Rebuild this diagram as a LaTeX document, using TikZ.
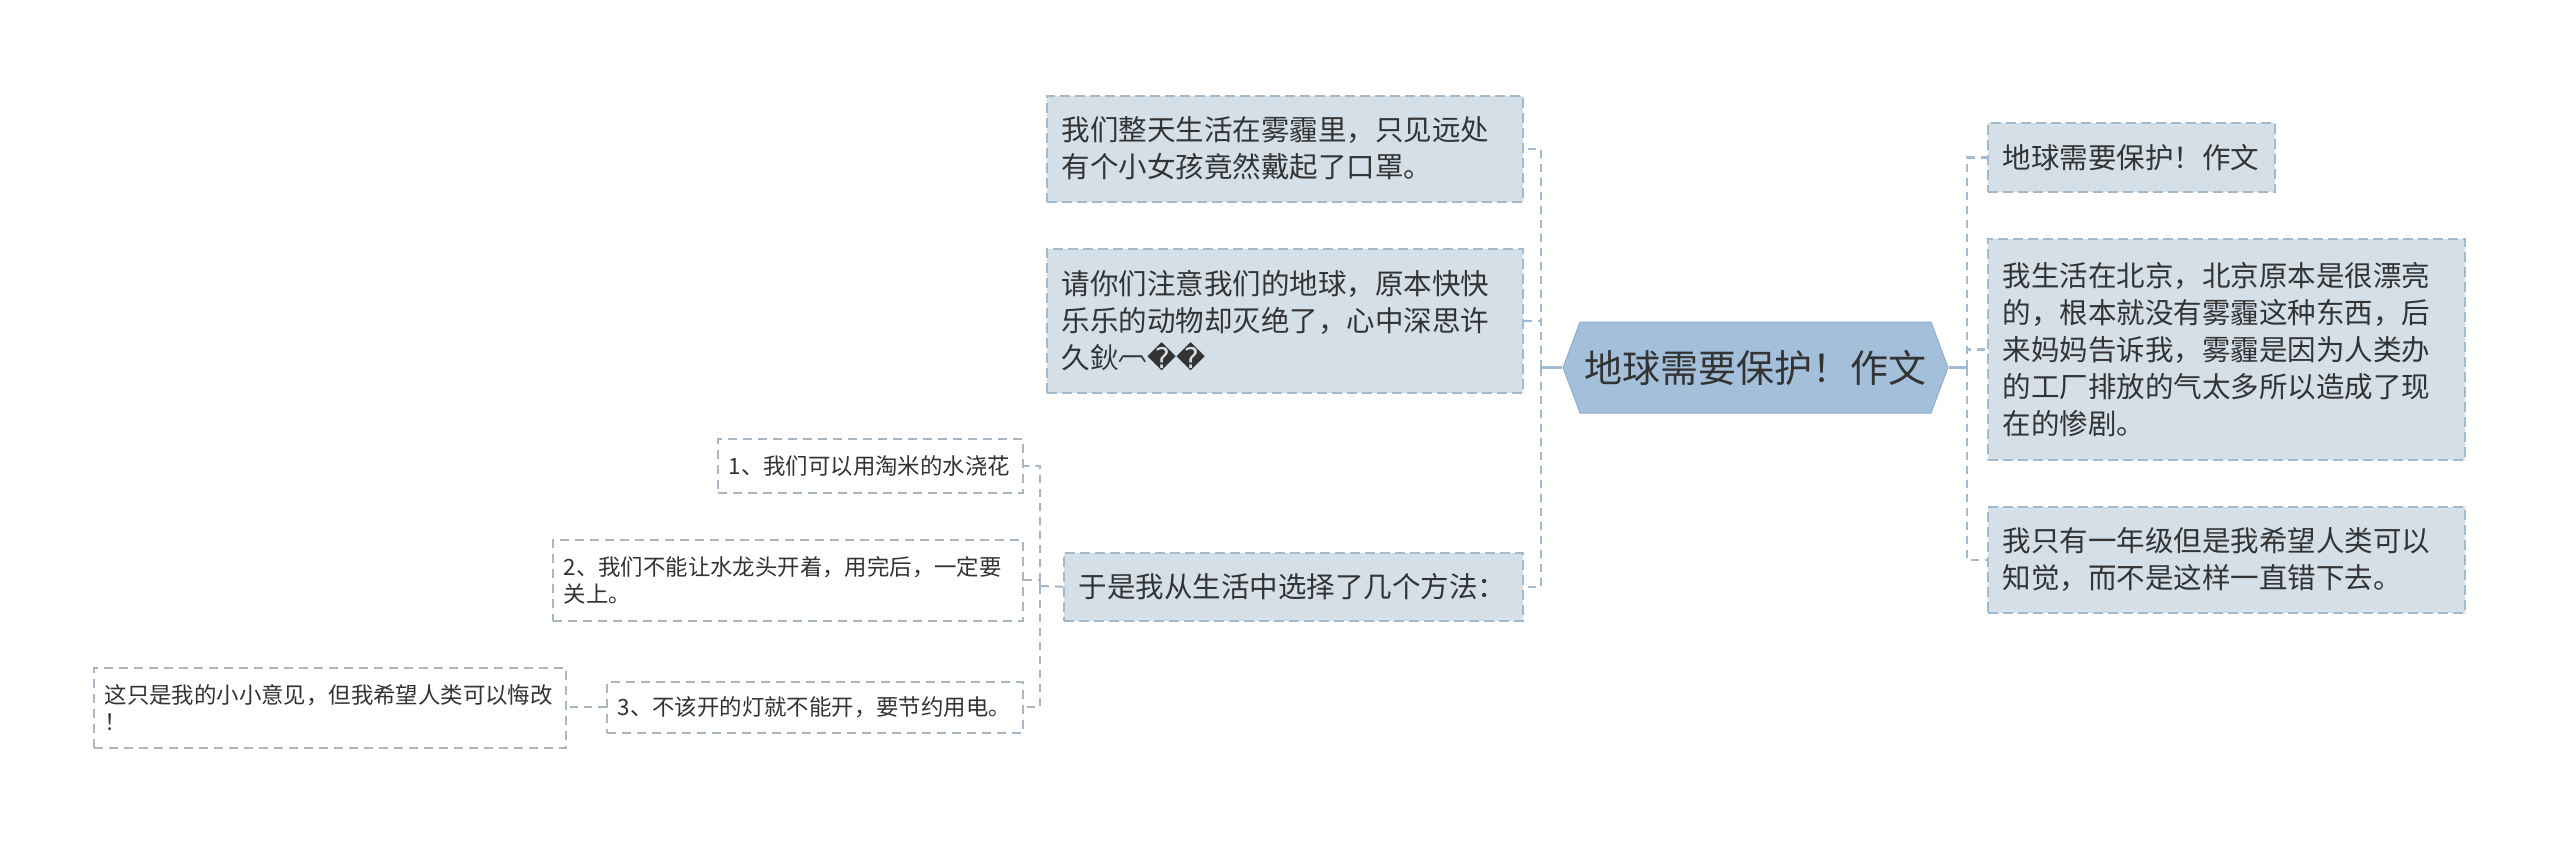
\documentclass[tikz,border=0pt]{standalone}
\usepackage{fontspec}
\setmainfont{Noto Sans CJK SC}
\newfontfamily\symbolfont{DejaVu Sans}
\usepackage{xcolor}
\definecolor{rootfill}{HTML}{A3BFDA}
\definecolor{rootline}{HTML}{8FB0D2}
\definecolor{topicfill}{HTML}{D4DFE8}
\definecolor{topicline}{HTML}{A3B9CC}
\definecolor{linkcol}{HTML}{A0BBD4}
\definecolor{subline}{HTML}{A8B7C3}
\definecolor{textdark}{HTML}{333333}
\usepackage{tikz}
\usetikzlibrary{shapes.symbols}

\begin{document}
\begin{tikzpicture}[
    x=1pt, y=-1pt,
    every node/.style={text=textdark},
    roottopic/.style={signal, signal to=west and east, signal pointer angle=139, fill=rootfill, draw=rootline, line width=1pt, minimum width=385pt, minimum height=91pt, inner sep=0pt, font=\fontsize{38}{44}\selectfont},
    topic/.style={draw=topicline, fill=topicfill, line width=1.5pt, dash pattern=on 10pt off 5pt, anchor=north west, align=left, inner xsep=15pt, inner ysep=0pt, font=\fontsize{28.5}{37}\selectfont},
    subtopic/.style={draw=subline, fill=white, line width=1.5pt, dash pattern=on 9pt off 6pt, anchor=north west, align=left, inner xsep=11pt, inner ysep=0pt, font=\fontsize{22.4}{27}\selectfont},
    link/.style={draw=linkcol, line width=2.5pt, dash pattern=on 8pt off 6pt},
    sublink/.style={draw=subline, line width=2pt, dash pattern=on 8pt off 6pt}
]
\useasboundingbox (0,0) rectangle (2560,843);

% Root
\node (root) [roottopic] at (1755.5,367.5) {地球需要保护！作文};

% Left topics
\node (t1) [topic, text width=446pt, minimum height=106pt] at (1046,95) {我们整天生活在雾霾里，只见远处\\有个小女孩竟然戴起了口罩。};
\node (t2) [topic, text width=446pt, minimum height=144pt] at (1046,248) {请你们注意我们的地球，原本快快\\乐乐的动物却灭绝了，心中深思许\\久鈥\raisebox{0.3em}{︹}{\symbolfont ��}};
\node (t3) [topic, text width=429pt, minimum height=68pt] at (1063,552) {于是我从生活中选择了几个方法：};

% Right topics
\node (r1) [topic, text width=257pt, minimum height=69pt] at (1987,122) {地球需要保护！作文};
\node (r2) [topic, text width=447pt, minimum height=221pt] at (1987,238) {我生活在北京，北京原本是很漂亮\\的，根本就没有雾霾这种东西，后\\来妈妈告诉我，雾霾是因为人类办\\的工厂排放的气太多所以造成了现\\在的惨剧。};
\node (r3) [topic, text width=447pt, minimum height=106pt] at (1987,506) {我只有一年级但是我希望人类可以\\知觉，而不是这样一直错下去。};

% Subtopics
\node (s1) [subtopic, text width=283pt, minimum height=54pt] at (717,438) {1、我们可以用淘米的水浇花};
\node (s2) [subtopic, text width=448pt, minimum height=81pt] at (552,539) {2、我们不能让水龙头开着，用完后，一定要\\关上。};
\node (s3) [subtopic, text width=394pt, minimum height=51pt] at (606,681) {3、不该开的灯就不能开，要节约用电。};
\node (s4) [subtopic, text width=450pt, minimum height=80pt] at (93,667) {这只是我的小小意见，但我希望人类可以悔改\\！};

% Connectors
\coordinate (ljunc) at (1541,367.5);
\coordinate (rjunc) at (1967,367.5);
\coordinate (sjunc) at (1040,586);
\draw [draw=linkcol, line width=2.5pt] (root.west) -- (ljunc);
\draw [draw=linkcol, line width=2.5pt] (root.east) -- (rjunc);
\draw [link] (ljunc) |- (t1.east);
\draw [link] (ljunc) |- (t2.east);
\draw [link] (ljunc) |- (t3.east);
\draw [link] (rjunc) |- (r1.west);
\draw [link] (rjunc) |- (r2.west);
\draw [link] (rjunc) |- (r3.west);
\draw [sublink] (t3.west) -- (sjunc) |- (s1.east);
\draw [sublink] (sjunc) |- (s2.east);
\draw [sublink] (sjunc) |- (s3.east);
\draw [sublink] (s3.west) -- (s3.west -| s4.east);
\end{tikzpicture}
\end{document}
